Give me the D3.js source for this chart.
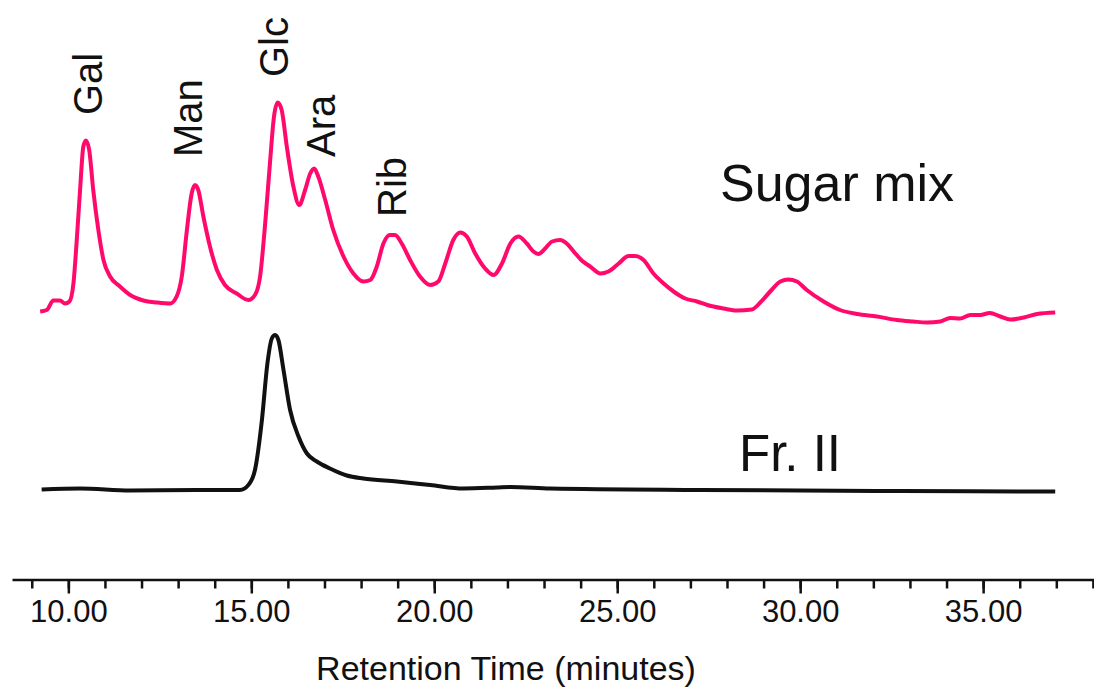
<!DOCTYPE html>
<html>
<head>
<meta charset="utf-8">
<script src="https://cdn.jsdelivr.net/npm/d3@7"></script>
<style>
  body { margin: 0; background: #fff; }
  text { font-family: "Liberation Sans", Arial, Helvetica, sans-serif; fill: #111; }
</style>
</head>
<body>
<div id="chart"></div>
<script>
// retention time (min) and detector signal (arb. units)
var sugarTime = [9.23, 9.41, 9.59, 9.77, 9.91, 10.03, 10.14, 10.23, 10.32, 10.41, 10.48, 10.57, 10.68, 10.82, 10.96,
    11.14, 11.41, 11.69, 12.05, 12.42, 12.78, 12.96, 13.10, 13.24, 13.37, 13.46, 13.55, 13.69, 13.87, 14.06,
    14.28, 14.60, 14.92, 15.10, 15.24, 15.38, 15.51, 15.62, 15.72, 15.83, 15.97, 16.15, 16.31, 16.47, 16.61,
    16.72, 16.83, 17.02, 17.24, 17.52, 17.79, 18.06, 18.25, 18.43, 18.61, 18.79, 18.93, 19.11, 19.34, 19.61,
    19.89, 20.11, 20.30, 20.52, 20.71, 20.89, 21.12, 21.39, 21.62, 21.85, 22.08, 22.30, 22.53, 22.71, 22.85,
    23.03, 23.22, 23.44, 23.62, 23.81, 24.03, 24.26, 24.54, 24.76, 25.04, 25.31, 25.49, 25.72, 25.99, 26.27,
    26.54, 26.86, 27.18, 27.46, 27.91, 28.27, 28.68, 28.91, 29.18, 29.46, 29.68, 29.91, 30.18, 30.64, 31.09,
    31.55, 32.10, 32.64, 33.09, 33.46, 33.83, 34.10, 34.37, 34.65, 34.92, 35.18, 35.47, 35.74, 36.11, 36.47, 36.97];
var sugarSignal = [35.7, 36.0, 37.9, 37.9, 37.3, 37.7, 41.4, 50.0, 60.0, 68.7, 69.9, 68.0, 60.0, 52.0, 46.0,
    42.7, 40.7, 39.0, 37.9, 37.5, 37.3, 38.7, 42.7, 52.0, 59.3, 61.0, 60.0, 54.7, 48.7, 44.0,
    41.0, 39.3, 38.0, 39.0, 42.7, 53.4, 65.4, 74.7, 77.5, 76.0, 68.7, 60.7, 57.0, 60.0, 63.3,
    64.3, 62.7, 58.0, 52.0, 46.7, 43.3, 41.7, 42.0, 44.7, 49.3, 51.0, 51.0, 49.3, 46.0, 42.7,
    41.0, 41.7, 45.3, 50.0, 51.5, 50.7, 47.3, 44.3, 43.0, 45.3, 49.3, 50.7, 49.3, 47.7, 47.2,
    48.3, 49.7, 50.0, 49.3, 47.7, 45.9, 44.7, 43.3, 43.7, 45.3, 46.8, 46.8, 46.0, 43.3, 41.3,
    39.7, 38.3, 37.7, 37.0, 36.3, 35.9, 36.1, 37.5, 39.7, 41.7, 42.1, 41.7, 40.0, 37.7, 36.0,
    35.2, 34.7, 34.0, 33.7, 33.5, 33.7, 34.4, 34.3, 35.0, 35.0, 35.4, 34.7, 34.1, 34.5, 35.2, 35.5];

var frTime = [9.27, 10.32, 11.69, 13.51, 14.69, 14.92, 15.10, 15.29, 15.44, 15.56, 15.65, 15.74, 15.88, 16.06,
    16.29, 16.52, 16.79, 17.15, 17.61, 18.06, 18.98, 19.89, 20.80, 21.71, 22.08, 23.17, 27.27, 32.74, 36.97];
var frSignal = [0.1, 0.3, -0.1, 0.0, 0.0, 1.0, 4.0, 14.0, 25.3, 30.3, 31.0, 30.0, 24.0, 16.0,
    10.7, 7.3, 5.7, 4.3, 2.9, 2.3, 1.7, 1.0, 0.3, 0.5, 0.6, 0.3, 0.0, -0.2, -0.3];

var majorTicks = [10, 15, 20, 25, 30, 35];
var minorTicks = d3.range(9, 39);

var peakNames = ["Gal", "Man", "Glc", "Ara", "Rib"];
var peakLabelTime = [10.91, 13.66, 16.01, 17.29, 19.23];
var peakLabelSignal = [75, 66.6, 82.6, 66.6, 54.6];

var width = 1094, height = 691;

var svg = d3.select("#chart").append("svg")
    .attr("width", width)
    .attr("height", height);

svg.append("rect").attr("width", width).attr("height", height).attr("fill", "#fff");

var x = d3.scaleLinear().domain([8.46, 38.03]).range([12, 1094]);
var y = d3.scaleLinear().domain([0, 100]).range([490, -10]);

var line = d3.line()
    .x(function (d) { return x(d[0]); })
    .y(function (d) { return y(d[1]); })
    .curve(d3.curveMonotoneX);

svg.append("path")
    .datum(d3.zip(sugarTime, sugarSignal))
    .attr("d", line)
    .attr("fill", "none")
    .attr("stroke", "#ff0a6c")
    .attr("stroke-width", 4)
    .attr("stroke-linejoin", "round");

svg.append("path")
    .datum(d3.zip(frTime, frSignal))
    .attr("d", line)
    .attr("fill", "none")
    .attr("stroke", "#111")
    .attr("stroke-width", 4)
    .attr("stroke-linejoin", "round");

// x axis: minor ticks every minute, labelled majors every 5
var axisY = 579.5;

svg.append("g")
    .attr("transform", "translate(0," + axisY + ")")
    .call(d3.axisBottom(x).tickValues(minorTicks).tickSize(9).tickSizeOuter(0).tickFormat(""))
    .call(function (g) {
        g.select(".domain").attr("stroke", "#111").attr("stroke-width", 2.5);
        g.selectAll(".tick line").attr("stroke", "#111").attr("stroke-width", 2.5);
    });

svg.append("g")
    .attr("transform", "translate(0," + axisY + ")")
    .call(d3.axisBottom(x).tickValues(majorTicks).tickSize(14).tickPadding(6).tickFormat(d3.format(".2f")))
    .call(function (g) {
        g.select(".domain").remove();
        g.selectAll(".tick line").attr("stroke", "#111").attr("stroke-width", 2.5);
        g.selectAll(".tick text")
            .attr("font-size", 31)
            .attr("font-family", "'Liberation Sans', Arial, sans-serif")
            .attr("fill", "#111");
    });

svg.append("text")
    .attr("x", 506)
    .attr("y", 680)
    .attr("text-anchor", "middle")
    .attr("font-size", 34)
    .text("Retention Time (minutes)");

// peak labels, rotated
svg.selectAll(".peak")
    .data(peakNames)
    .enter()
    .append("text")
    .attr("class", "peak")
    .attr("transform", function (d, i) {
        return "translate(" + x(peakLabelTime[i]) + "," + y(peakLabelSignal[i]) + ") rotate(-90)";
    })
    .attr("font-size", 40)
    .text(function (d) { return d; });

svg.append("text")
    .attr("x", 720)
    .attr("y", 201)
    .attr("font-size", 52)
    .text("Sugar mix");

svg.append("text")
    .attr("x", 739)
    .attr("y", 471)
    .attr("font-size", 51)
    .text("Fr. II");
</script>
</body>
</html>
